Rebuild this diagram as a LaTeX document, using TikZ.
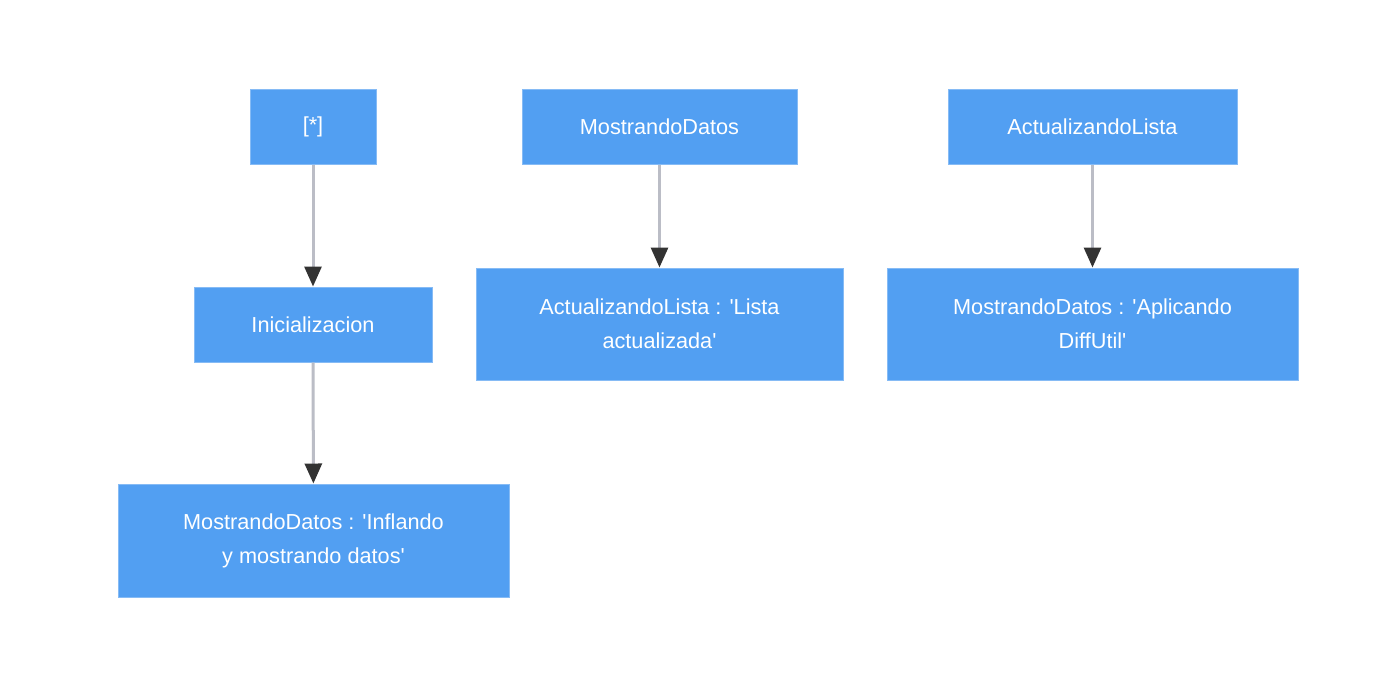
\documentclass[tikz,border=0pt]{standalone}
\usepackage{fontspec}
\setmainfont{Liberation Sans}[Ligatures={NoCommon}]
\usetikzlibrary{arrows.meta}
\definecolor{boxfill}{HTML}{529FF2}
\definecolor{boxline}{HTML}{86BBF5}
\definecolor{edgecol}{HTML}{BBBDC6}
\definecolor{tipcol}{HTML}{333333}
\newcommand{\sq}{\textquotesingle}
\begin{document}
\begin{tikzpicture}[x=1pt,y=-1pt,
  state/.style={draw=boxline,line width=1pt,fill=boxfill,text=white,inner sep=0pt,
    align=center,font=\fontsize{21.7pt}{34pt}\selectfont},
  trans/.style={draw=edgecol,line width=3pt,-{Triangle[length=20pt,width=17pt,color=tipcol,fill=tipcol]}}
]
\useasboundingbox (0,0) rectangle (1380,678);
\fill[white] (0,0) rectangle (1380,678);
\node[state,minimum width=126pt,minimum height=75pt] (start) at (313,126.5) {[*]};
\node[state,minimum width=238pt,minimum height=75pt] (ini) at (313,324.5) {Inicializacion};
\node[state,minimum width=391pt,minimum height=113pt] (md1) at (313.5,540.5) {MostrandoDatos : \sq Inflando\\y mostrando datos\sq};
\node[state,minimum width=275pt,minimum height=75pt] (md) at (659.5,126.5) {MostrandoDatos};
\node[state,minimum width=367pt,minimum height=112pt] (al1) at (659.5,324) {ActualizandoLista : \sq Lista\\actualizada\sq};
\node[state,minimum width=289pt,minimum height=75pt] (al) at (1092.5,126.5) {ActualizandoLista};
\node[state,minimum width=411pt,minimum height=112pt] (md2) at (1092.5,324) {MostrandoDatos : \sq Aplicando\\DiffUtil\sq};
\draw[trans] (start) -- (ini);
\draw[trans] (ini) -- (md1);
\draw[trans] (md) -- (al1);
\draw[trans] (al) -- (md2);
\end{tikzpicture}
\end{document}
